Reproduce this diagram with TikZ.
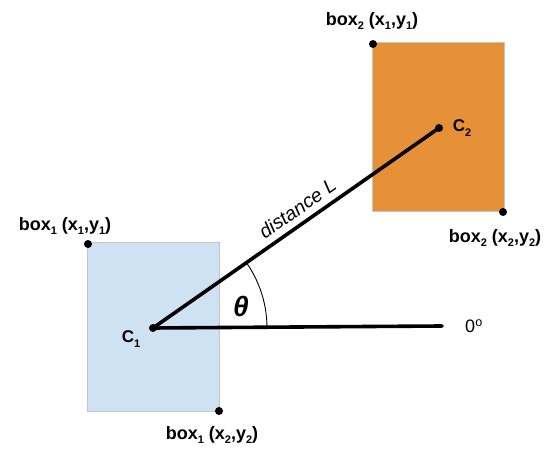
\documentclass[tikz,border=0pt]{standalone}
\usepackage{fontspec}
\setmainfont{Liberation Sans}
\newcommand\mysub[1]{\raisebox{-4.5pt}{\fontsize{11}{11}\selectfont #1}}
\begin{document}
\begin{tikzpicture}[x=1pt,y=1pt,
  lbl/.style={font=\fontsize{18}{19}\selectfont\bfseries, inner sep=0pt},
  dot/.style={circle, fill=black, inner sep=0pt, minimum size=8pt},
  thickline/.style={line width=3.6pt, line cap=round},
  boxa/.style={fill=boxblue, draw=boxgray, line width=1pt},
  boxb/.style={fill=boxorange, draw=boxgray, line width=1pt}]
\definecolor{boxblue}{HTML}{CFE2F3}
\definecolor{boxorange}{HTML}{E69138}
\definecolor{boxgray}{HTML}{C4C4C4}
\useasboundingbox (0,0) rectangle (554,457);
% boxes
\path[boxa] (87,45) rectangle (219,214);
\path[boxb] (372,245) rectangle (504,414);
% key points
\coordinate (C1) at (153,129);
\coordinate (C2) at (439,329);
\coordinate (Z) at (442,131);
% lines
\draw[thickline] (C1) -- (Z);
\draw[thickline] (C1) -- (C2) node[pos=0.535, sloped, above=3pt, font=\fontsize{19.5}{21}\selectfont\itshape] (dl) {distance L};
\draw[line width=0.9pt] (C1) ++(0.4:114) arc[start angle=0.4, end angle=35, radius=114];
% dots
\node[dot] (c1d) at (C1) {};
\node[dot] (c2d) at (C2) {};
\node[dot] (b1tl) at (88,213) {};
\node[dot] (b1br) at (219,46) {};
\node[dot] (b2tl) at (373,413) {};
\node[dot] (b2br) at (503,245) {};
% labels
\node[lbl] (l1) at (65,231) {box\mysub{1} (x\mysub{1},y\mysub{1})};
\node[lbl] (l2) at (212,22) {box\mysub{1} (x\mysub{2},y\mysub{2})};
\node[lbl] (l3) at (372,436) {box\mysub{2} (x\mysub{1},y\mysub{1})};
\node[lbl] (l4) at (495,219) {box\mysub{2} (x\mysub{2},y\mysub{2})};
\node[lbl, font=\fontsize{17}{18}\selectfont\bfseries] (lc1) at (131,118) {C\mysub{1}};
\node[lbl, font=\fontsize{17}{18}\selectfont\bfseries] (lc2) at (462,329) {C\mysub{2}};
\node[font=\fontsize{18}{20}\selectfont, inner sep=0pt] (lz) at (474,131) {0\textsuperscript{o}};
\node[font=\fontsize{28}{30}\selectfont\bfseries\itshape, inner sep=0pt] (th) at (241,151) {θ};
\end{tikzpicture}
\end{document}
